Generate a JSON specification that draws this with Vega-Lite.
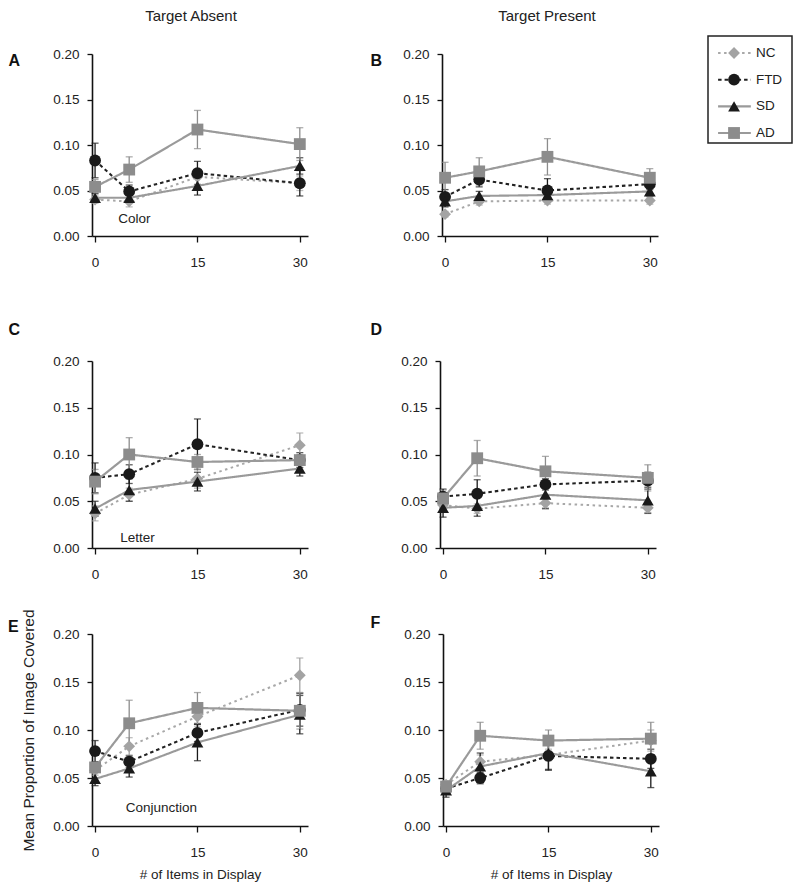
{
  "$schema": "https://vega.github.io/schema/vega-lite/v6.json",
  "padding": {"left": 8, "top": 9, "right": 5, "bottom": 5},
  "background": "white",
  "config": {
    "font": "Liberation Sans",
    "view": {"stroke": null},
    "axis": {
      "grid": false,
      "domainColor": "#111",
      "domainWidth": 1.6,
      "tickColor": "#111",
      "tickWidth": 1.3,
      "labelFont": "Liberation Sans",
      "labelFontSize": 13.5,
      "labelColor": "#222",
      "titleFont": "Liberation Sans",
      "titleFontWeight": "normal",
      "titleColor": "#222"
    },
    "title": {"font": "Liberation Sans", "fontSize": 15, "fontWeight": "normal", "color": "#222"}
  },
  "datasets": {
    "d": [
      {"p": "A", "g": "NC", "n": 0, "m": 0.040, "se": 0.004},
      {"p": "A", "g": "NC", "n": 5, "m": 0.038, "se": 0.006},
      {"p": "A", "g": "NC", "n": 15, "m": 0.065, "se": 0.008},
      {"p": "A", "g": "NC", "n": 30, "m": 0.058, "se": 0.008},
      {"p": "A", "g": "FTD", "n": 0, "m": 0.083, "se": 0.019},
      {"p": "A", "g": "FTD", "n": 5, "m": 0.049, "se": 0.007},
      {"p": "A", "g": "FTD", "n": 15, "m": 0.069, "se": 0.013},
      {"p": "A", "g": "FTD", "n": 30, "m": 0.058, "se": 0.014},
      {"p": "A", "g": "SD", "n": 0, "m": 0.042, "se": 0.005},
      {"p": "A", "g": "SD", "n": 5, "m": 0.042, "se": 0.005},
      {"p": "A", "g": "SD", "n": 15, "m": 0.055, "se": 0.010},
      {"p": "A", "g": "SD", "n": 30, "m": 0.077, "se": 0.009},
      {"p": "A", "g": "AD", "n": 0, "m": 0.054, "se": 0.008},
      {"p": "A", "g": "AD", "n": 5, "m": 0.073, "se": 0.014},
      {"p": "A", "g": "AD", "n": 15, "m": 0.117, "se": 0.021},
      {"p": "A", "g": "AD", "n": 30, "m": 0.101, "se": 0.018},
      {"p": "B", "g": "NC", "n": 0, "m": 0.024, "se": 0.003},
      {"p": "B", "g": "NC", "n": 5, "m": 0.038, "se": 0.004},
      {"p": "B", "g": "NC", "n": 15, "m": 0.039, "se": 0.004},
      {"p": "B", "g": "NC", "n": 30, "m": 0.039, "se": 0.004},
      {"p": "B", "g": "FTD", "n": 0, "m": 0.043, "se": 0.008},
      {"p": "B", "g": "FTD", "n": 5, "m": 0.062, "se": 0.008},
      {"p": "B", "g": "FTD", "n": 15, "m": 0.050, "se": 0.013},
      {"p": "B", "g": "FTD", "n": 30, "m": 0.057, "se": 0.006},
      {"p": "B", "g": "SD", "n": 0, "m": 0.038, "se": 0.006},
      {"p": "B", "g": "SD", "n": 5, "m": 0.044, "se": 0.005},
      {"p": "B", "g": "SD", "n": 15, "m": 0.045, "se": 0.006},
      {"p": "B", "g": "SD", "n": 30, "m": 0.049, "se": 0.005},
      {"p": "B", "g": "AD", "n": 0, "m": 0.064, "se": 0.017},
      {"p": "B", "g": "AD", "n": 5, "m": 0.071, "se": 0.015},
      {"p": "B", "g": "AD", "n": 15, "m": 0.087, "se": 0.020},
      {"p": "B", "g": "AD", "n": 30, "m": 0.064, "se": 0.010},
      {"p": "C", "g": "NC", "n": 0, "m": 0.037, "se": 0.008},
      {"p": "C", "g": "NC", "n": 5, "m": 0.057, "se": 0.007},
      {"p": "C", "g": "NC", "n": 15, "m": 0.074, "se": 0.010},
      {"p": "C", "g": "NC", "n": 30, "m": 0.110, "se": 0.013},
      {"p": "C", "g": "FTD", "n": 0, "m": 0.075, "se": 0.016},
      {"p": "C", "g": "FTD", "n": 5, "m": 0.079, "se": 0.010},
      {"p": "C", "g": "FTD", "n": 15, "m": 0.111, "se": 0.027},
      {"p": "C", "g": "FTD", "n": 30, "m": 0.094, "se": 0.008},
      {"p": "C", "g": "SD", "n": 0, "m": 0.042, "se": 0.008},
      {"p": "C", "g": "SD", "n": 5, "m": 0.062, "se": 0.012},
      {"p": "C", "g": "SD", "n": 15, "m": 0.071, "se": 0.010},
      {"p": "C", "g": "SD", "n": 30, "m": 0.085, "se": 0.008},
      {"p": "C", "g": "AD", "n": 0, "m": 0.071, "se": 0.013},
      {"p": "C", "g": "AD", "n": 5, "m": 0.100, "se": 0.018},
      {"p": "C", "g": "AD", "n": 15, "m": 0.092, "se": 0.008},
      {"p": "C", "g": "AD", "n": 30, "m": 0.094, "se": 0.006},
      {"p": "D", "g": "NC", "n": 0, "m": 0.046, "se": 0.004},
      {"p": "D", "g": "NC", "n": 5, "m": 0.042, "se": 0.005},
      {"p": "D", "g": "NC", "n": 15, "m": 0.048, "se": 0.005},
      {"p": "D", "g": "NC", "n": 30, "m": 0.043, "se": 0.005},
      {"p": "D", "g": "FTD", "n": 0, "m": 0.055, "se": 0.008},
      {"p": "D", "g": "FTD", "n": 5, "m": 0.058, "se": 0.015},
      {"p": "D", "g": "FTD", "n": 15, "m": 0.068, "se": 0.006},
      {"p": "D", "g": "FTD", "n": 30, "m": 0.072, "se": 0.009},
      {"p": "D", "g": "SD", "n": 0, "m": 0.043, "se": 0.010},
      {"p": "D", "g": "SD", "n": 5, "m": 0.045, "se": 0.011},
      {"p": "D", "g": "SD", "n": 15, "m": 0.057, "se": 0.015},
      {"p": "D", "g": "SD", "n": 30, "m": 0.051, "se": 0.014},
      {"p": "D", "g": "AD", "n": 0, "m": 0.053, "se": 0.009},
      {"p": "D", "g": "AD", "n": 5, "m": 0.096, "se": 0.019},
      {"p": "D", "g": "AD", "n": 15, "m": 0.082, "se": 0.016},
      {"p": "D", "g": "AD", "n": 30, "m": 0.075, "se": 0.014},
      {"p": "E", "g": "NC", "n": 0, "m": 0.058, "se": 0.005},
      {"p": "E", "g": "NC", "n": 5, "m": 0.083, "se": 0.009},
      {"p": "E", "g": "NC", "n": 15, "m": 0.114, "se": 0.010},
      {"p": "E", "g": "NC", "n": 30, "m": 0.157, "se": 0.018},
      {"p": "E", "g": "FTD", "n": 0, "m": 0.078, "se": 0.011},
      {"p": "E", "g": "FTD", "n": 5, "m": 0.067, "se": 0.006},
      {"p": "E", "g": "FTD", "n": 15, "m": 0.097, "se": 0.009},
      {"p": "E", "g": "FTD", "n": 30, "m": 0.121, "se": 0.017},
      {"p": "E", "g": "SD", "n": 0, "m": 0.049, "se": 0.007},
      {"p": "E", "g": "SD", "n": 5, "m": 0.060, "se": 0.009},
      {"p": "E", "g": "SD", "n": 15, "m": 0.087, "se": 0.019},
      {"p": "E", "g": "SD", "n": 30, "m": 0.116, "se": 0.020},
      {"p": "E", "g": "AD", "n": 0, "m": 0.061, "se": 0.005},
      {"p": "E", "g": "AD", "n": 5, "m": 0.107, "se": 0.024},
      {"p": "E", "g": "AD", "n": 15, "m": 0.123, "se": 0.016},
      {"p": "E", "g": "AD", "n": 30, "m": 0.120, "se": 0.019},
      {"p": "F", "g": "NC", "n": 0, "m": 0.043, "se": 0.004},
      {"p": "F", "g": "NC", "n": 5, "m": 0.067, "se": 0.007},
      {"p": "F", "g": "NC", "n": 15, "m": 0.074, "se": 0.006},
      {"p": "F", "g": "NC", "n": 30, "m": 0.089, "se": 0.011},
      {"p": "F", "g": "FTD", "n": 0, "m": 0.039, "se": 0.004},
      {"p": "F", "g": "FTD", "n": 5, "m": 0.050, "se": 0.006},
      {"p": "F", "g": "FTD", "n": 15, "m": 0.073, "se": 0.014},
      {"p": "F", "g": "FTD", "n": 30, "m": 0.070, "se": 0.010},
      {"p": "F", "g": "SD", "n": 0, "m": 0.037, "se": 0.007},
      {"p": "F", "g": "SD", "n": 5, "m": 0.062, "se": 0.014},
      {"p": "F", "g": "SD", "n": 15, "m": 0.076, "se": 0.018},
      {"p": "F", "g": "SD", "n": 30, "m": 0.057, "se": 0.017},
      {"p": "F", "g": "AD", "n": 0, "m": 0.041, "se": 0.006},
      {"p": "F", "g": "AD", "n": 5, "m": 0.094, "se": 0.014},
      {"p": "F", "g": "AD", "n": 15, "m": 0.089, "se": 0.011},
      {"p": "F", "g": "AD", "n": 30, "m": 0.091, "se": 0.017}
    ],
    "notes": [
      {"p": "A", "note": "Color", "n": 3.4, "m": 0.019},
      {"p": "C", "note": "Letter", "n": 3.7, "m": 0.011},
      {"p": "E", "note": "Conjunction", "n": 4.5, "m": 0.019}
    ],
    "leg": [
      {"g": "NC"}, {"g": "FTD"}, {"g": "SD"}, {"g": "AD"}
    ],
    "none": []
  },
  "vconcat": [
    {
      "hconcat": [
        {
          "vconcat": [
            {
              "width": 216, "height": 1,
              "title": {"text": "Target Absent", "offset": 12, "dx": -9},
              "data": {"name": "none"},
              "mark": "point",
              "encoding": {}
            },
            {
              "width": 216, "height": 182,
              "data": {"name": "d"},
              "transform": [{"filter": "datum.p === 'A'"}],
              "encoding": {
                "x": {"field": "n", "type": "quantitative", "scale": {"domain": [-0.45, 31.2], "nice": false, "zero": false}, "axis": {"values": [0, 15, 30], "tickSize": 6, "labelPadding": 13, "labelFlush": false, "title": null}},
                "y": {"field": "m", "type": "quantitative", "scale": {"domain": [0, 0.2], "nice": false}, "axis": {"values": [0, 0.05, 0.1, 0.15, 0.2], "format": ".2f", "tickSize": 5, "labelPadding": 8, "title": "A", "titleAngle": 0, "titleAlign": "left", "titleBaseline": "top", "titleX": -84, "titleY": -1.5, "titleFontWeight": "bold", "titleFontSize": 16, "titleColor": "#111"}}
              },
              "layer": [
                {"mark": {"type": "errorbar", "ticks": {"size": 7}, "thickness": 1.3}, "encoding": {"yError": {"field": "se"}, "color": {"field": "g", "type": "nominal", "scale": {"domain": ["NC", "FTD", "SD", "AD"], "range": ["#a3a3a3", "#1a1a1a", "#1a1a1a", "#8c8c8c"]}, "legend": null}}},
                {"mark": {"type": "line"}, "encoding": {"stroke": {"field": "g", "type": "nominal", "scale": {"domain": ["NC", "FTD", "SD", "AD"], "range": ["#a8a8a8", "#222222", "#9a9a9a", "#9a9a9a"]}, "legend": null}, "strokeDash": {"field": "g", "type": "nominal", "scale": {"domain": ["NC", "FTD", "SD", "AD"], "range": [[2.5, 3.5], [3.5, 3], [1, 0], [1, 0]]}, "legend": null}, "strokeWidth": {"field": "g", "type": "ordinal", "scale": {"domain": ["NC", "FTD", "SD", "AD"], "range": [2, 2.2, 1.5, 1.5]}, "legend": null}}},
                {"mark": {"type": "point", "filled": true, "opacity": 1, "size": 140}, "encoding": {"shape": {"field": "g", "type": "nominal", "scale": {"domain": ["NC", "FTD", "SD", "AD"], "range": ["diamond", "circle", "triangle-up", "square"]}, "legend": null}, "color": {"field": "g", "type": "nominal", "scale": {"domain": ["NC", "FTD", "SD", "AD"], "range": ["#a3a3a3", "#1a1a1a", "#1a1a1a", "#8c8c8c"]}, "legend": null}}},
                {"data": {"name": "notes"}, "transform": [{"filter": "datum.p === 'A'"}], "mark": {"type": "text", "align": "left", "baseline": "middle", "fontSize": 13.5, "color": "#222"}, "encoding": {"text": {"field": "note"}}}
              ]
            }
          ],
          "spacing": 10
        },
        {
          "hconcat": [
            {
              "vconcat": [
                {
                  "width": 216, "height": 1,
                  "title": {"text": "Target Present", "offset": 12, "dx": -3},
                  "data": {"name": "none"},
                  "mark": "point",
                  "encoding": {}
                },
                {
                  "width": 216, "height": 182,
                  "data": {"name": "d"},
                  "transform": [{"filter": "datum.p === 'B'"}],
                  "encoding": {
                    "x": {"field": "n", "type": "quantitative", "scale": {"domain": [-0.45, 31.2], "nice": false, "zero": false}, "axis": {"values": [0, 15, 30], "tickSize": 6, "labelPadding": 13, "labelFlush": false, "title": null}},
                    "y": {"field": "m", "type": "quantitative", "scale": {"domain": [0, 0.2], "nice": false}, "axis": {"values": [0, 0.05, 0.1, 0.15, 0.2], "format": ".2f", "tickSize": 5, "labelPadding": 8, "title": "B", "titleAngle": 0, "titleAlign": "left", "titleBaseline": "top", "titleX": -72, "titleY": -1.5, "titleFontWeight": "bold", "titleFontSize": 16, "titleColor": "#111"}}
                  },
                  "layer": [
                    {"mark": {"type": "errorbar", "ticks": {"size": 7}, "thickness": 1.3}, "encoding": {"yError": {"field": "se"}, "color": {"field": "g", "type": "nominal", "scale": {"domain": ["NC", "FTD", "SD", "AD"], "range": ["#a3a3a3", "#1a1a1a", "#1a1a1a", "#8c8c8c"]}, "legend": null}}},
                    {"mark": {"type": "line"}, "encoding": {"stroke": {"field": "g", "type": "nominal", "scale": {"domain": ["NC", "FTD", "SD", "AD"], "range": ["#a8a8a8", "#222222", "#9a9a9a", "#9a9a9a"]}, "legend": null}, "strokeDash": {"field": "g", "type": "nominal", "scale": {"domain": ["NC", "FTD", "SD", "AD"], "range": [[2.5, 3.5], [3.5, 3], [1, 0], [1, 0]]}, "legend": null}, "strokeWidth": {"field": "g", "type": "ordinal", "scale": {"domain": ["NC", "FTD", "SD", "AD"], "range": [2, 2.2, 1.5, 1.5]}, "legend": null}}},
                    {"mark": {"type": "point", "filled": true, "opacity": 1, "size": 140}, "encoding": {"shape": {"field": "g", "type": "nominal", "scale": {"domain": ["NC", "FTD", "SD", "AD"], "range": ["diamond", "circle", "triangle-up", "square"]}, "legend": null}, "color": {"field": "g", "type": "nominal", "scale": {"domain": ["NC", "FTD", "SD", "AD"], "range": ["#a3a3a3", "#1a1a1a", "#1a1a1a", "#8c8c8c"]}, "legend": null}}}
                  ]
                }
              ],
              "spacing": 10
            },
            {
              "width": 84, "height": 107,
              "view": {"stroke": "#222", "strokeWidth": 1.5},
              "data": {"name": "leg"},
              "encoding": {
                "y": {"field": "g", "type": "nominal", "scale": {"type": "point", "domain": ["NC", "FTD", "SD", "AD"], "range": [17, 97], "padding": 0}, "axis": null}
              },
              "layer": [
                {"mark": {"type": "rule"}, "encoding": {"x": {"datum": 0.12, "type": "quantitative", "scale": {"domain": [0, 1], "nice": false, "zero": false}, "axis": null}, "x2": {"datum": 0.51}, "stroke": {"field": "g", "type": "nominal", "scale": {"domain": ["NC", "FTD", "SD", "AD"], "range": ["#a8a8a8", "#222222", "#9a9a9a", "#9a9a9a"]}, "legend": null}, "strokeDash": {"field": "g", "type": "nominal", "scale": {"domain": ["NC", "FTD", "SD", "AD"], "range": [[2.5, 3.5], [3.5, 3], [1, 0], [1, 0]]}, "legend": null}, "strokeWidth": {"field": "g", "type": "ordinal", "scale": {"domain": ["NC", "FTD", "SD", "AD"], "range": [2, 2.2, 1.5, 1.5]}, "legend": null}}},
                {"mark": {"type": "point", "filled": true, "opacity": 1, "size": 140}, "encoding": {"x": {"datum": 0.31, "type": "quantitative"}, "shape": {"field": "g", "type": "nominal", "scale": {"domain": ["NC", "FTD", "SD", "AD"], "range": ["diamond", "circle", "triangle-up", "square"]}, "legend": null}, "color": {"field": "g", "type": "nominal", "scale": {"domain": ["NC", "FTD", "SD", "AD"], "range": ["#a3a3a3", "#1a1a1a", "#1a1a1a", "#8c8c8c"]}, "legend": null}}},
                {"mark": {"type": "text", "align": "left", "baseline": "middle", "fontSize": 13.5, "color": "#222"}, "encoding": {"x": {"datum": 0.57, "type": "quantitative"}, "text": {"field": "g"}}}
              ]
            }
          ],
          "spacing": 49
        }
      ],
      "spacing": 62
    },
    {
      "vconcat": [
        {
          "hconcat": [
            {
              "width": 216, "height": 187,
              "data": {"name": "d"},
              "transform": [{"filter": "datum.p === 'C'"}],
              "encoding": {
                "x": {"field": "n", "type": "quantitative", "scale": {"domain": [-0.45, 31.2], "nice": false, "zero": false}, "axis": {"values": [0, 15, 30], "tickSize": 6, "labelPadding": 13, "labelFlush": false, "title": null}},
                "y": {"field": "m", "type": "quantitative", "scale": {"domain": [0, 0.2], "nice": false}, "axis": {"values": [0, 0.05, 0.1, 0.15, 0.2], "format": ".2f", "tickSize": 5, "labelPadding": 8, "title": "C", "titleAngle": 0, "titleAlign": "left", "titleBaseline": "top", "titleX": -84, "titleY": -39.5, "titleFontWeight": "bold", "titleFontSize": 16, "titleColor": "#111"}}
              },
              "layer": [
                {"mark": {"type": "errorbar", "ticks": {"size": 7}, "thickness": 1.3}, "encoding": {"yError": {"field": "se"}, "color": {"field": "g", "type": "nominal", "scale": {"domain": ["NC", "FTD", "SD", "AD"], "range": ["#a3a3a3", "#1a1a1a", "#1a1a1a", "#8c8c8c"]}, "legend": null}}},
                {"mark": {"type": "line"}, "encoding": {"stroke": {"field": "g", "type": "nominal", "scale": {"domain": ["NC", "FTD", "SD", "AD"], "range": ["#a8a8a8", "#222222", "#9a9a9a", "#9a9a9a"]}, "legend": null}, "strokeDash": {"field": "g", "type": "nominal", "scale": {"domain": ["NC", "FTD", "SD", "AD"], "range": [[2.5, 3.5], [3.5, 3], [1, 0], [1, 0]]}, "legend": null}, "strokeWidth": {"field": "g", "type": "ordinal", "scale": {"domain": ["NC", "FTD", "SD", "AD"], "range": [2, 2.2, 1.5, 1.5]}, "legend": null}}},
                {"mark": {"type": "point", "filled": true, "opacity": 1, "size": 140}, "encoding": {"shape": {"field": "g", "type": "nominal", "scale": {"domain": ["NC", "FTD", "SD", "AD"], "range": ["diamond", "circle", "triangle-up", "square"]}, "legend": null}, "color": {"field": "g", "type": "nominal", "scale": {"domain": ["NC", "FTD", "SD", "AD"], "range": ["#a3a3a3", "#1a1a1a", "#1a1a1a", "#8c8c8c"]}, "legend": null}}},
                {"data": {"name": "notes"}, "transform": [{"filter": "datum.p === 'C'"}], "mark": {"type": "text", "align": "left", "baseline": "middle", "fontSize": 13.5, "color": "#222"}, "encoding": {"text": {"field": "note"}}}
              ]
            },
            {
              "width": 216, "height": 187,
              "data": {"name": "d"},
              "transform": [{"filter": "datum.p === 'D'"}],
              "encoding": {
                "x": {"field": "n", "type": "quantitative", "scale": {"domain": [-0.45, 31.2], "nice": false, "zero": false}, "axis": {"values": [0, 15, 30], "tickSize": 6, "labelPadding": 13, "labelFlush": false, "title": null}},
                "y": {"field": "m", "type": "quantitative", "scale": {"domain": [0, 0.2], "nice": false}, "axis": {"values": [0, 0.05, 0.1, 0.15, 0.2], "format": ".2f", "tickSize": 5, "labelPadding": 8, "title": "D", "titleAngle": 0, "titleAlign": "left", "titleBaseline": "top", "titleX": -70, "titleY": -39.5, "titleFontWeight": "bold", "titleFontSize": 16, "titleColor": "#111"}}
              },
              "layer": [
                {"mark": {"type": "errorbar", "ticks": {"size": 7}, "thickness": 1.3}, "encoding": {"yError": {"field": "se"}, "color": {"field": "g", "type": "nominal", "scale": {"domain": ["NC", "FTD", "SD", "AD"], "range": ["#a3a3a3", "#1a1a1a", "#1a1a1a", "#8c8c8c"]}, "legend": null}}},
                {"mark": {"type": "line"}, "encoding": {"stroke": {"field": "g", "type": "nominal", "scale": {"domain": ["NC", "FTD", "SD", "AD"], "range": ["#a8a8a8", "#222222", "#9a9a9a", "#9a9a9a"]}, "legend": null}, "strokeDash": {"field": "g", "type": "nominal", "scale": {"domain": ["NC", "FTD", "SD", "AD"], "range": [[2.5, 3.5], [3.5, 3], [1, 0], [1, 0]]}, "legend": null}, "strokeWidth": {"field": "g", "type": "ordinal", "scale": {"domain": ["NC", "FTD", "SD", "AD"], "range": [2, 2.2, 1.5, 1.5]}, "legend": null}}},
                {"mark": {"type": "point", "filled": true, "opacity": 1, "size": 140}, "encoding": {"shape": {"field": "g", "type": "nominal", "scale": {"domain": ["NC", "FTD", "SD", "AD"], "range": ["diamond", "circle", "triangle-up", "square"]}, "legend": null}, "color": {"field": "g", "type": "nominal", "scale": {"domain": ["NC", "FTD", "SD", "AD"], "range": ["#a3a3a3", "#1a1a1a", "#1a1a1a", "#8c8c8c"]}, "legend": null}}}
              ]
            }
          ],
          "spacing": 62
        },
        {
          "hconcat": [
            {
              "width": 216, "height": 192,
              "title": {"text": "E", "anchor": "start", "frame": "group", "dx": -84, "offset": -26, "fontSize": 16, "fontWeight": "bold", "color": "#111"},
              "data": {"name": "d"},
              "transform": [{"filter": "datum.p === 'E'"}],
              "encoding": {
                "x": {"field": "n", "type": "quantitative", "scale": {"domain": [-0.45, 31.2], "nice": false, "zero": false}, "axis": {"values": [0, 15, 30], "tickSize": 6, "labelPadding": 13, "labelFlush": false, "title": "# of Items in Display", "titleFontSize": 13.5, "titlePadding": 9}},
                "y": {"field": "m", "type": "quantitative", "scale": {"domain": [0, 0.2], "nice": false}, "axis": {"values": [0, 0.05, 0.1, 0.15, 0.2], "format": ".2f", "tickSize": 5, "labelPadding": 8, "title": "Mean Proportion of Image Covered", "titleFontSize": 15.5, "titlePadding": 16}}
              },
              "layer": [
                {"mark": {"type": "errorbar", "ticks": {"size": 7}, "thickness": 1.3}, "encoding": {"yError": {"field": "se"}, "color": {"field": "g", "type": "nominal", "scale": {"domain": ["NC", "FTD", "SD", "AD"], "range": ["#a3a3a3", "#1a1a1a", "#1a1a1a", "#8c8c8c"]}, "legend": null}}},
                {"mark": {"type": "line"}, "encoding": {"stroke": {"field": "g", "type": "nominal", "scale": {"domain": ["NC", "FTD", "SD", "AD"], "range": ["#a8a8a8", "#222222", "#9a9a9a", "#9a9a9a"]}, "legend": null}, "strokeDash": {"field": "g", "type": "nominal", "scale": {"domain": ["NC", "FTD", "SD", "AD"], "range": [[2.5, 3.5], [3.5, 3], [1, 0], [1, 0]]}, "legend": null}, "strokeWidth": {"field": "g", "type": "ordinal", "scale": {"domain": ["NC", "FTD", "SD", "AD"], "range": [2, 2.2, 1.5, 1.5]}, "legend": null}}},
                {"mark": {"type": "point", "filled": true, "opacity": 1, "size": 140}, "encoding": {"shape": {"field": "g", "type": "nominal", "scale": {"domain": ["NC", "FTD", "SD", "AD"], "range": ["diamond", "circle", "triangle-up", "square"]}, "legend": null}, "color": {"field": "g", "type": "nominal", "scale": {"domain": ["NC", "FTD", "SD", "AD"], "range": ["#a3a3a3", "#1a1a1a", "#1a1a1a", "#8c8c8c"]}, "legend": null}}},
                {"data": {"name": "notes"}, "transform": [{"filter": "datum.p === 'E'"}], "mark": {"type": "text", "align": "left", "baseline": "middle", "fontSize": 13.5, "color": "#222"}, "encoding": {"text": {"field": "note"}}}
              ]
            },
            {
              "width": 216, "height": 192,
              "data": {"name": "d"},
              "transform": [{"filter": "datum.p === 'F'"}],
              "encoding": {
                "x": {"field": "n", "type": "quantitative", "scale": {"domain": [-0.45, 31.2], "nice": false, "zero": false}, "axis": {"values": [0, 15, 30], "tickSize": 6, "labelPadding": 13, "labelFlush": false, "title": "# of Items in Display", "titleFontSize": 13.5, "titlePadding": 9}},
                "y": {"field": "m", "type": "quantitative", "scale": {"domain": [0, 0.2], "nice": false}, "axis": {"values": [0, 0.05, 0.1, 0.15, 0.2], "format": ".2f", "tickSize": 5, "labelPadding": 8, "title": "F", "titleAngle": 0, "titleAlign": "left", "titleBaseline": "top", "titleX": -73, "titleY": -19.5, "titleFontWeight": "bold", "titleFontSize": 16, "titleColor": "#111"}}
              },
              "layer": [
                {"mark": {"type": "errorbar", "ticks": {"size": 7}, "thickness": 1.3}, "encoding": {"yError": {"field": "se"}, "color": {"field": "g", "type": "nominal", "scale": {"domain": ["NC", "FTD", "SD", "AD"], "range": ["#a3a3a3", "#1a1a1a", "#1a1a1a", "#8c8c8c"]}, "legend": null}}},
                {"mark": {"type": "line"}, "encoding": {"stroke": {"field": "g", "type": "nominal", "scale": {"domain": ["NC", "FTD", "SD", "AD"], "range": ["#a8a8a8", "#222222", "#9a9a9a", "#9a9a9a"]}, "legend": null}, "strokeDash": {"field": "g", "type": "nominal", "scale": {"domain": ["NC", "FTD", "SD", "AD"], "range": [[2.5, 3.5], [3.5, 3], [1, 0], [1, 0]]}, "legend": null}, "strokeWidth": {"field": "g", "type": "ordinal", "scale": {"domain": ["NC", "FTD", "SD", "AD"], "range": [2, 2.2, 1.5, 1.5]}, "legend": null}}},
                {"mark": {"type": "point", "filled": true, "opacity": 1, "size": 140}, "encoding": {"shape": {"field": "g", "type": "nominal", "scale": {"domain": ["NC", "FTD", "SD", "AD"], "range": ["diamond", "circle", "triangle-up", "square"]}, "legend": null}, "color": {"field": "g", "type": "nominal", "scale": {"domain": ["NC", "FTD", "SD", "AD"], "range": ["#a3a3a3", "#1a1a1a", "#1a1a1a", "#8c8c8c"]}, "legend": null}}}
              ]
            }
          ],
          "spacing": 62
        }
      ],
      "spacing": 27
    }
  ],
  "spacing": 52
}
